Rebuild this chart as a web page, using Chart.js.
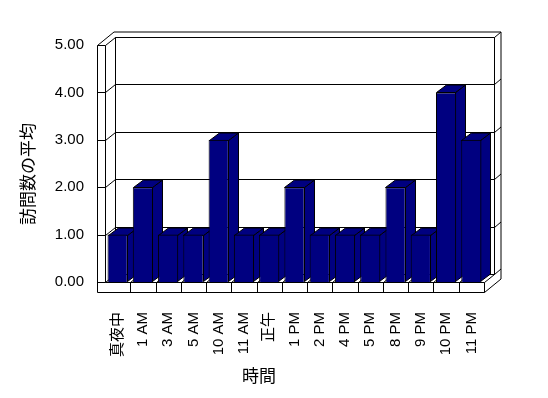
<!DOCTYPE html>
<html>
<head>
<meta charset="utf-8">
<script src="https://cdn.jsdelivr.net/npm/chart.js@4.4.1/dist/chart.umd.min.js"></script>
<style>
  html, body { margin: 0; padding: 0; background: #fff; }
  #wrap { width: 548px; height: 398px; }
</style>
</head>
<body>
<div id="wrap"><canvas id="chart" width="548" height="398"></canvas></div>
<script>
// data
const categories = ['真夜中', '1 AM', '3 AM', '5 AM', '10 AM', '11 AM', '正午', '1 PM', '2 PM', '4 PM', '5 PM', '8 PM', '9 PM', '10 PM', '11 PM'];
const visits = [1, 2, 1, 1, 3, 1, 1, 2, 1, 1, 1, 2, 1, 4, 3];
const yTicks = [0, 1, 2, 3, 4, 5];
const xTitle = '時間';
const yTitle = '訪問数の平均';

const NAVY = '#000080';
// depth offsets for the fake 3D look
const BAR_DX = 10, BAR_DY = -7.5;
const WALL_DX = 10, WALL_DY = -8;
const OUT_DX = 16.5, OUT_DY = -13.5;
const WALL_W = 8, FLOOR_H = 10;

function poly(ctx, pts, fill) {
    ctx.beginPath();
    ctx.moveTo(pts[0][0], pts[0][1]);
    for (let i = 1; i < pts.length; i++) ctx.lineTo(pts[i][0], pts[i][1]);
    ctx.closePath();
    if (fill) { ctx.fillStyle = fill; ctx.fill(); }
    ctx.stroke();
}

function line(ctx, x1, y1, x2, y2) {
    ctx.beginPath();
    ctx.moveTo(x1, y1);
    ctx.lineTo(x2, y2);
    ctx.stroke();
}

const box3d = {
    id: 'box3d',
    beforeDraw(chart) {
        const ctx = chart.ctx;
        ctx.save();
        ctx.fillStyle = '#fff';
        ctx.fillRect(0, 0, chart.width, chart.height);
        ctx.restore();
    },
    beforeDatasetsDraw(chart) {
        const ctx = chart.ctx;
        const a = chart.chartArea;
        const ys = chart.scales.y;
        const L = Math.round(a.left) + 0.5, R = Math.round(a.right) + 0.5;
        const T = Math.round(a.top) + 0.5, B = Math.round(a.bottom) + 0.5;
        ctx.save();
        ctx.strokeStyle = '#000';
        ctx.lineWidth = 1;

        // back wall (inner face) and gridlines
        poly(ctx, [[L + WALL_DX, T + WALL_DY], [R + WALL_DX, T + WALL_DY], [R + WALL_DX, B + WALL_DY], [L + WALL_DX, B + WALL_DY]], '#fff');
        yTicks.forEach(v => {
            const y = Math.round(ys.getPixelForValue(v)) + 0.5;
            line(ctx, L + WALL_DX, y + WALL_DY, R + WALL_DX, y + WALL_DY);
            line(ctx, L, y, L + WALL_DX, y + WALL_DY);
            line(ctx, L - WALL_W, y, L, y);
            line(ctx, R + WALL_DX, y + WALL_DY, R + OUT_DX, y + OUT_DY);
        });
        // outer edges of the walls
        line(ctx, L - WALL_W + OUT_DX, T + OUT_DY, R + OUT_DX, T + OUT_DY);
        line(ctx, L - WALL_W, T, L - WALL_W + OUT_DX, T + OUT_DY);
        line(ctx, R + OUT_DX, T + OUT_DY, R + OUT_DX, B + FLOOR_H + OUT_DY);
        line(ctx, L - WALL_W, T, L - WALL_W, B + FLOOR_H);
        line(ctx, L, T, L, B);

        // floor top with category lines
        const n = categories.length;
        const step = (a.right - a.left) / n;
        for (let i = 1; i < n; i++) {
            const x = Math.round(a.left + i * step) + 0.5;
            line(ctx, x, B, x + WALL_DX, B + WALL_DY);
            line(ctx, x, B, x, B + FLOOR_H);
        }
        // floor front and side
        line(ctx, L, B, R, B);
        line(ctx, L - WALL_W, B + FLOOR_H, R, B + FLOOR_H);
        line(ctx, R, B, R, B + FLOOR_H);
        line(ctx, R, B, R + WALL_DX, B + WALL_DY);
        line(ctx, R, B + FLOOR_H, R + OUT_DX, B + FLOOR_H + OUT_DY);

        // tops and sides of the bars, library draws the fronts over them
        const meta = chart.getDatasetMeta(0);
        meta.data.forEach(bar => {
            const p = bar.getProps(['x', 'y', 'base', 'width'], true);
            const l = Math.round(p.x - p.width / 2) + 0.5, r = Math.round(p.x + p.width / 2) - 0.5;
            const t = Math.round(p.y) + 0.5, b = Math.round(p.base) - 0.5;
            poly(ctx, [[r, t], [r + BAR_DX, t + BAR_DY], [r + BAR_DX, b + BAR_DY], [r, b]], NAVY);
            poly(ctx, [[l, t], [l + BAR_DX, t + BAR_DY], [r + BAR_DX, t + BAR_DY], [r, t]], NAVY);
        });
        ctx.restore();
    },
    afterDraw(chart) {
        const ctx = chart.ctx;
        ctx.save();
        ctx.fillStyle = '#000';
        ctx.font = '17px "Noto Sans CJK JP"';
        ctx.textAlign = 'center';
        ctx.textBaseline = 'middle';
        ctx.fillText(xTitle, 259, 376);
        ctx.translate(28, 174);
        ctx.rotate(-Math.PI / 2);
        ctx.fillText(yTitle, 0, 0);
        ctx.restore();
    }
};

Chart.defaults.color = '#000';
Chart.defaults.font.family = '"Liberation Sans", "Noto Sans CJK JP", sans-serif';
Chart.defaults.font.size = 15;

new Chart(document.getElementById('chart'), {
    type: 'bar',
    data: {
        labels: categories,
        datasets: [{
            data: visits,
            backgroundColor: NAVY,
            borderColor: '#000',
            borderWidth: 1,
            barPercentage: 0.8,
            categoryPercentage: 1.0
        }]
    },
    options: {
        responsive: false,
        animation: false,
        layout: { padding: { top: 45, right: 64, left: 0, bottom: 0 } },
        plugins: {
            legend: { display: false },
            tooltip: { enabled: false }
        },
        scales: {
            x: {
                grid: { display: false, drawTicks: false },
                border: { display: false },
                ticks: { minRotation: 90, maxRotation: 90, autoSkip: false, padding: 30 },
                afterFit: s => { s.height = 116; }
            },
            y: {
                min: 0,
                max: 5,
                grid: { display: false, drawTicks: false },
                border: { display: false },
                ticks: { stepSize: 1, padding: 21, callback: v => v.toFixed(2) },
                afterFit: s => { s.width = 105; }
            }
        }
    },
    plugins: [box3d]
});
</script>
</body>
</html>
